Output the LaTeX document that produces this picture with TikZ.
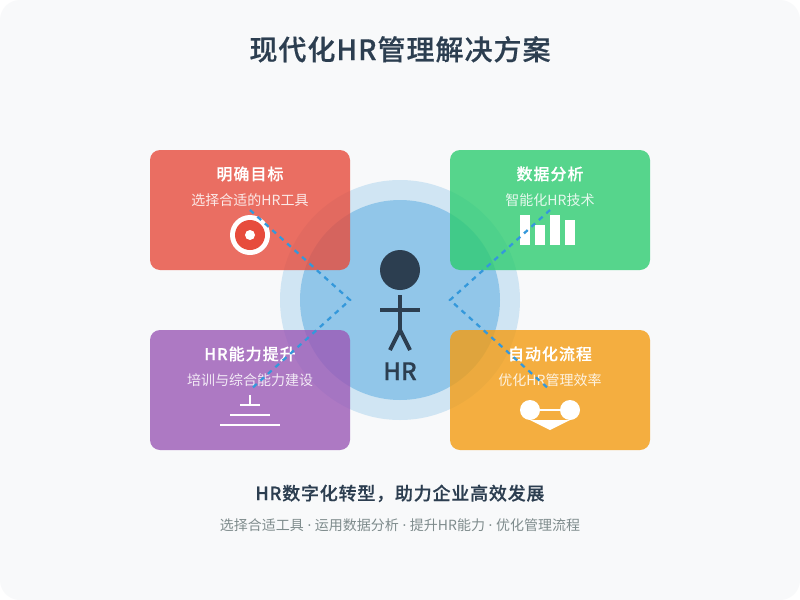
\documentclass[tikz,border=0pt]{standalone}
\usepackage{fontspec}
\setmainfont{Noto Sans CJK SC}
\newfontfamily\hd[FakeBold=0.5]{Noto Sans CJK SC Medium}
\newfontfamily\ltn{Noto Sans}
\definecolor{bgc}{HTML}{F8F9FA}
\definecolor{ink}{HTML}{2C3E50}
\definecolor{gry}{HTML}{7F8C8D}
\definecolor{blu}{HTML}{3498DB}
\definecolor{redc}{HTML}{E74C3C}
\definecolor{grn}{HTML}{2ECC71}
\definecolor{pur}{HTML}{9B59B6}
\definecolor{org}{HTML}{F39C12}
\newcommand{\fs}[1]{\fontsize{#1}{#1}\selectfont}
\newcommand{\sep}{{\ltn\ ·\ }}
\tikzset{
  x=0.75pt,y=-0.75pt,
  card/.style={fill=#1,fill opacity=0.8,rounded corners=7.5pt,minimum width=150pt,minimum height=90pt,inner sep=0pt,outer sep=0pt,anchor=north west},
  cardtitle/.style={text=white,font=\fs{12}\hd\addfontfeature{LetterSpace=6.25},anchor=base,inner sep=0pt},
  cardsub/.style={text=white,text opacity=0.85,font=\fs{10.5},anchor=base,inner sep=0pt},
  dashline/.style={draw=blu,line width=1.7pt,dash pattern=on 3.75pt off 3.75pt},
  whiteline/.style={draw=white,line width=1.5pt},
  figline/.style={draw=ink,line width=3pt},
  dot/.style={circle,inner sep=0pt,outer sep=0pt,minimum size=#1*1.5pt},
}
\begin{document}
\begin{tikzpicture}
\useasboundingbox (0,0) rectangle (800,600);
\fill[white] (0,0) rectangle (800,600);
\fill[bgc,rounded corners=15pt] (0,0) rectangle (800,600);
\node[font=\fs{21}\hd\addfontfeature{LetterSpace=3.57},text=ink,anchor=base,inner sep=0pt] (title) at (400,60) {现代化HR管理解决方案};
% central circles
\node[dot=120,fill=blu,fill opacity=0.2] (outer) at (400,300) {};
\node[dot=100,fill=blu,fill opacity=0.4] (inner) at (400,300) {};
% cards
\node[card=redc] (c1) at (150,150) {};
\node[card=grn] (c2) at (450,150) {};
\node[card=pur] (c3) at (150,330) {};
\node[card=org] (c4) at (450,330) {};
% figure
\node[dot=20,fill=ink] (head) at (400,270) {};
\coordinate (neck) at (400,295);
\coordinate (hip) at (400,330);
\coordinate (armL) at (380,310);
\coordinate (armR) at (420,310);
\coordinate (legL) at (390,350);
\coordinate (legR) at (410,350);
\draw[figline] (neck) -- (hip);
\draw[figline] (armL) -- (armR);
\draw[figline] (hip) -- (legL);
\draw[figline] (hip) -- (legR);
\node[font=\fs{18}\hd,text=ink,anchor=base,inner sep=0pt] (hr) at (400,380) {HR};
% texts
\node[cardtitle] (t1) at (250,180) {明确目标};
\node[cardsub] (s1) at (250,205) {选择合适的HR工具};
\node[cardtitle] (t2) at (550,180) {数据分析};
\node[cardsub] (s2) at (550,205) {智能化HR技术};
\node[cardtitle] (t3) at (250,360) {HR能力提升};
\node[cardsub] (s3) at (250,385) {培训与综合能力建设};
\node[cardtitle] (t4) at (550,360) {自动化流程};
\node[cardsub] (s4) at (550,385) {优化HR管理效率};
% target icon
\node[dot=20,fill=white] (tg1) at (250,235) {};
\node[dot=15,fill=redc] (tg2) at (250,235) {};
\node[dot=5,fill=white] (tg3) at (250,235) {};
% bars
\fill[white] (520,215) rectangle (530,245);
\fill[white] (535,225) rectangle (545,245);
\fill[white] (550,215) rectangle (560,245);
\fill[white] (565,220) rectangle (575,245);
% steps icon
\coordinate (st0) at (250,395);
\coordinate (st1) at (250,405);
\coordinate (a1) at (240,405); \coordinate (b1) at (260,405);
\coordinate (a2) at (230,415); \coordinate (b2) at (270,415);
\coordinate (a3) at (220,425); \coordinate (b3) at (280,425);
\draw[whiteline] (st0) -- (st1);
\draw[whiteline] (a1) -- (b1);
\draw[whiteline] (a2) -- (b2);
\draw[whiteline] (a3) -- (b3);
% flow icon
\node[dot=10,fill=white] (f1) at (530,410) {};
\node[dot=10,fill=white] (f2) at (570,410) {};
\draw[whiteline] (f1) -- (f2);
\fill[white] (530,420) -- (550,430) -- (570,420) -- cycle;
% dashed connectors
\coordinate (d1) at (250,210);
\coordinate (d2) at (350,300);
\coordinate (d3) at (250,390);
\coordinate (e1) at (550,210);
\coordinate (e2) at (450,300);
\coordinate (e3) at (550,390);
\draw[dashline] (d1) -- (d2) -- (d3);
\draw[dashline] (e1) -- (e2) -- (e3);
% footer
\node[font=\fs{13.5}\hd\addfontfeature{LetterSpace=4.4},text=ink,anchor=base,inner sep=0pt] (f1t) at (400,500) {HR数字化转型，助力企业高效发展};
\node[font=\fs{10.5},text=gry,anchor=base,inner sep=0pt] (f2t) at (400,530) {选择合适工具\sep 运用数据分析\sep 提升HR能力\sep 优化管理流程};
\end{tikzpicture}
\end{document}
